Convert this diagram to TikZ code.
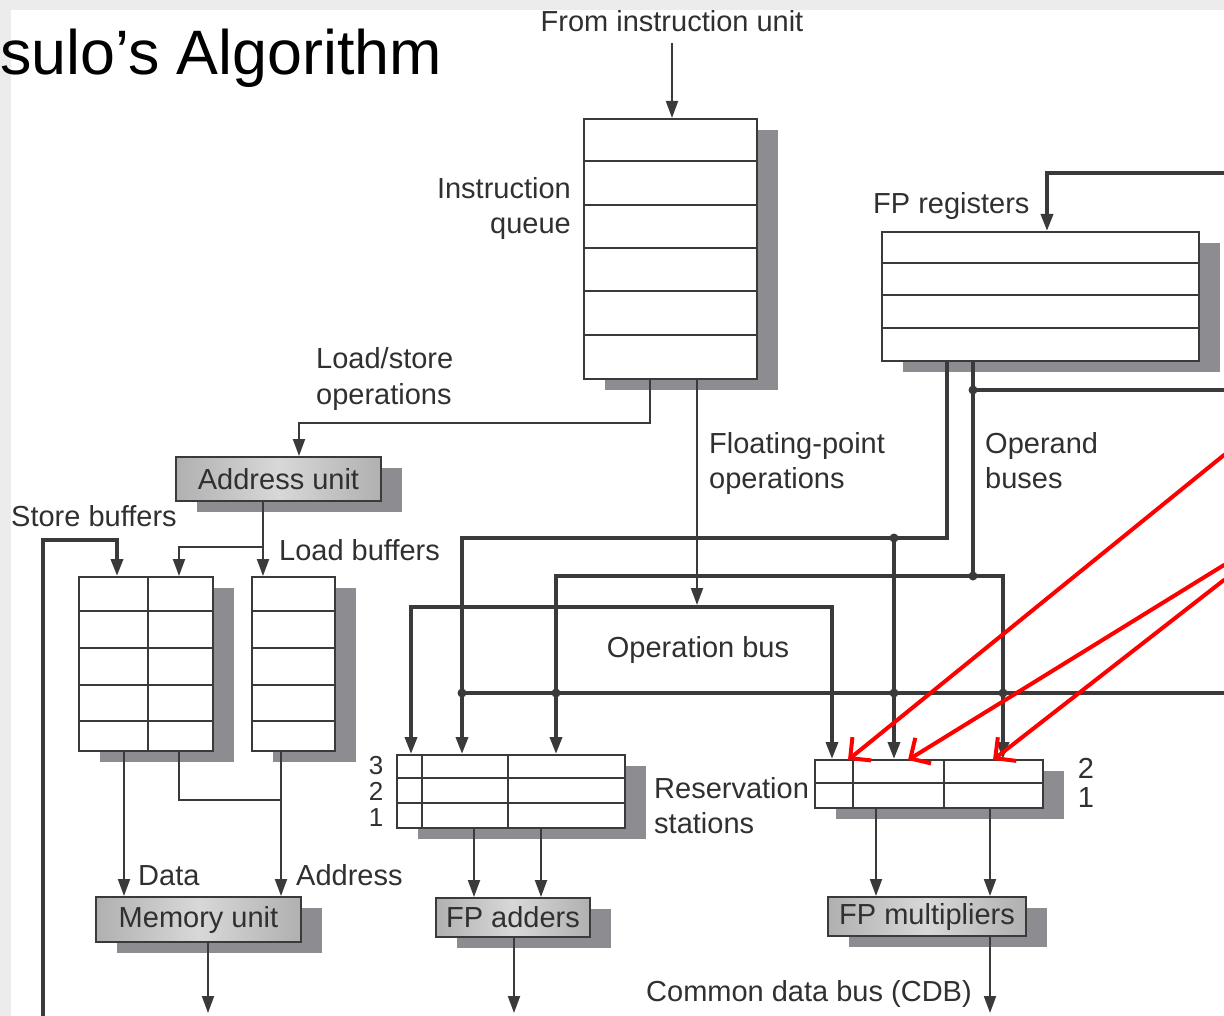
\documentclass[tikz,border=0pt]{standalone}
\usepackage{fontspec}
\setmainfont{Liberation Sans}
\usetikzlibrary{arrows.meta,shadows}
\definecolor{ink}{HTML}{3A3A3A}
\definecolor{txt}{HTML}{303030}
\definecolor{shade}{HTML}{8C8C91}
\definecolor{unitedge}{HTML}{B0B0B0}
\definecolor{unitmid}{HTML}{D8D8D8}
\definecolor{frame}{HTML}{ECECEC}
\newcommand\lblsize{\fontsize{29}{35}\selectfont}
\newcommand\digsize{\fontsize{26}{30}\selectfont}
\begin{document}
\begin{tikzpicture}[x=1pt,y=-1pt,
  thinline/.style={draw=ink, line width=2pt},
  busline/.style={draw=ink, line width=3.6pt},
  tip/.style={-{Triangle[length=17pt,width=12pt]}},
  tips/.style={{Triangle[length=17pt,width=12pt]}-{Triangle[length=17pt,width=12pt]}},
  flat/.style={drop shadow={shadow xshift=21pt,shadow yshift=-11pt,fill=shade,opacity=1}},
  regfile/.style={draw=ink, line width=2pt, fill=white, inner sep=0pt, anchor=north west, flat},
  unit/.style={draw=ink, line width=2pt, inner sep=0pt, anchor=north west,
    left color=unitedge, right color=unitedge, middle color=unitmid,
    text=txt, font=\lblsize, flat},
  lbl/.style={text=txt, font=\lblsize, inner sep=0pt},
  digit/.style={text=txt, font=\digsize, inner sep=0pt},
  junction/.style={circle, fill=ink, inner sep=0pt, minimum size=9pt},
  redptr/.style={draw=red, line width=4pt, line cap=round,
    -{Straight Barb[length=15pt,width=30pt]}},
]
\useasboundingbox (0,0) rectangle (1224,1016);
% slide frame
\fill[frame] (0,0) rectangle (1224,10);
\fill[frame] (0,10) rectangle (11,1016);

% title
\node[anchor=base west, inner sep=0pt, font=\fontsize{62.8}{70}\selectfont] (title) at (0,75) {sulo’s Algorithm};

% register files and buffers
\node[regfile, minimum width=173pt, minimum height=260pt] (iq) at (583,118) {};
\foreach \r in {161.3,204.7,248,291.3,334.7} \draw[thinline] (583,\r) -- (756,\r);

\node[regfile, minimum width=317pt, minimum height=129pt] (fpr) at (881,231) {};
\foreach \r in {263.25,295.5,327.75} \draw[thinline] (881,\r) -- (1198,\r);

\node[regfile, minimum width=134pt, minimum height=174pt] (sb) at (78,576) {};
\foreach \r in {611,648,685,721} \draw[thinline] (78,\r) -- (212,\r);
\draw[thinline] (148,576) -- (148,750);

\node[regfile, minimum width=83pt, minimum height=174pt] (lb) at (251,576) {};
\foreach \r in {611,648,685,721} \draw[thinline] (251,\r) -- (334,\r);

\node[regfile, minimum width=228pt, minimum height=73pt] (rsa) at (396,754) {};
\foreach \r in {778.3,802.7} \draw[thinline] (396,\r) -- (624,\r);
\foreach \c in {422,508} \draw[thinline] (\c,754) -- (\c,827);

\node[regfile, minimum width=228pt, minimum height=48pt] (rsm) at (814,759) {};
\draw[thinline] (814,783) -- (1042,783);
\foreach \c in {853,944} \draw[thinline] (\c,759) -- (\c,807);

% functional units
\node[unit, minimum width=205pt, minimum height=44pt] (au) at (175,456) {Address unit};
\node[unit, minimum width=205pt, minimum height=45pt] (mu) at (95,896) {Memory unit};
\node[unit, minimum width=154pt, minimum height=39pt] (fpa) at (435,897) {FP adders};
\node[unit, minimum width=198pt, minimum height=39pt] (fpm) at (827,896) {FP multipliers};

% bend and column points
\coordinate (iu) at (672,43);
\coordinate (lsbend) at (649.5,423);
\coordinate (fpop) at (697,605);
\coordinate (obL) at (411,607);
\coordinate (obR) at (832,607);
\coordinate (ob1) at (947,538);
\coordinate (ob2) at (973,576);
\coordinate (j1) at (894,538);
\coordinate (a2) at (462,693);
\coordinate (a3) at (556,693);
\coordinate (m2) at (894,693);
\coordinate (m3) at (1003,693);
\coordinate (cdbE) at (1224,693);
\coordinate (rb) at (973,390);
\coordinate (rbE) at (1224,390);
\coordinate (wbE) at (1224,173);
\coordinate (wb) at (1047,173);
\coordinate (fb) at (43,1016);
\coordinate (fbT) at (117,540);
\coordinate (lbsplit) at (263,547);
\coordinate (sbdat) at (179,800);
\coordinate (dcol) at (124,0);
\coordinate (acol) at (281,0);
\coordinate (ao1) at (474,0);
\coordinate (ao2) at (541,0);
\coordinate (mo1) at (876,0);
\coordinate (mo2) at (990,0);
\coordinate (muout) at (208,1013);
\coordinate (faout) at (514,1013);
\coordinate (fmout) at (990,1013);

% instruction flow
\draw[thinline,tip] (iu) -- (iu |- iq.north);
\draw[thinline,tip] (iq.south -| lsbend) -- (lsbend) -| ([xshift=20.5pt]au.north);
\draw[thinline,tip] (iq.south -| fpop) -- (fpop);

% operation bus
\draw[busline,tips] (obL |- rsa.north) -- (obL) -- (obR) -- (obR |- rsm.north);

% operand buses
\draw[busline,tip] (fpr.south -| ob1) -- (ob1) -| (a2 |- rsa.north);
\draw[busline,tip] (j1) -- (j1 |- rsm.north);
\draw[busline] (fpr.south -| ob2) -- (ob2);
\draw[busline,tips] (a3 |- rsa.north) -- (a3 |- ob2) -- (m3 |- ob2) -- (m3 |- rsm.north);

% common data bus
\draw[busline] (a2) -- (cdbE);
\draw[busline] (rb) -- (rbE);
\draw[busline,tip] (wbE) -- (wb) -- (wb |- fpr.north);
\draw[busline,tip] (fb) |- (fbT) -- (fbT |- sb.north);

% load/store path
\draw[thinline,tip] (au.south -| lbsplit) -- (lbsplit |- lb.north);
\draw[thinline,tip] (lbsplit) -| (sbdat |- sb.north);
\draw[thinline,tip] (sb.south -| dcol) -- (dcol |- mu.north);
\draw[thinline,tip] (lb.south -| acol) -- (acol |- mu.north);
\draw[thinline] (sb.south -| sbdat) |- (sbdat -| acol);

% reservation stations to units
\draw[thinline,tip] (rsa.south -| ao1) -- (ao1 |- fpa.north);
\draw[thinline,tip] (rsa.south -| ao2) -- (ao2 |- fpa.north);
\draw[thinline,tip] (rsm.south -| mo1) -- (mo1 |- fpm.north);
\draw[thinline,tip] (rsm.south -| mo2) -- (mo2 |- fpm.north);

% unit results
\draw[thinline,tip] (mu.south -| muout) -- (muout);
\draw[thinline,tip] (fpa.south -| faout) -- (faout);
\draw[thinline,tip] (fpm.south -| fmout) -- (fmout);

% junctions
\foreach \p/\n in {j1/dj1, ob2/dob2, rb/drb, a2/da2, a3/da3, m2/dm2, m3/dm3}
  \node[junction] (\n) at (\p) {};

% labels
\node[lbl, anchor=base] (tfrom) at (672,32) {From instruction unit};
\node[lbl, anchor=base east] (tiq1) at (571,199) {Instruction};
\node[lbl, anchor=base east] (tiq2) at (571,234) {queue};
\node[lbl, anchor=base west] (tls1) at (316,369) {Load/store};
\node[lbl, anchor=base west] (tls2) at (316,404) {operations};
\node[lbl, anchor=base west] (tfp1) at (709,453) {Floating-point};
\node[lbl, anchor=base west] (tfp2) at (709,488) {operations};
\node[lbl, anchor=base west] (tob1) at (985,453) {Operand};
\node[lbl, anchor=base west] (tob2) at (985,488) {buses};
\node[lbl, anchor=base west] (tfpr) at (873,214) {FP registers};
\node[lbl, anchor=base west] (tsb) at (11,526) {Store buffers};
\node[lbl, anchor=base west] (tlb) at (279,560) {Load buffers};
\node[lbl, anchor=base] (top) at (698,657) {Operation bus};
\node[digit, anchor=base] (ta3) at (376,774) {3};
\node[digit, anchor=base] (ta2) at (376,800) {2};
\node[digit, anchor=base] (ta1) at (376,826) {1};
\node[lbl, anchor=base west] (trs1) at (654,798) {Reservation};
\node[lbl, anchor=base west] (trs2) at (654,833) {stations};
\node[lbl, anchor=base] (tm2) at (1086,778) {2};
\node[lbl, anchor=base] (tm1) at (1086,807) {1};
\node[lbl, anchor=base west] (tdata) at (138,885) {Data};
\node[lbl, anchor=base west] (taddr) at (296,885) {Address};
\node[lbl, anchor=base west] (tcdb) at (646,1001) {Common data bus (CDB)};

% red pointers
\coordinate (r1) at (1224,455);
\coordinate (r1t) at (848,760);
\coordinate (r2) at (1224,565);
\coordinate (r2t) at (908,760);
\coordinate (r3) at (1224,580);
\coordinate (r3t) at (993,760);
\draw[redptr] (r1) -- (r1t);
\draw[redptr] (r2) -- (r2t);
\draw[redptr] (r3) -- (r3t);
\end{tikzpicture}
\end{document}
